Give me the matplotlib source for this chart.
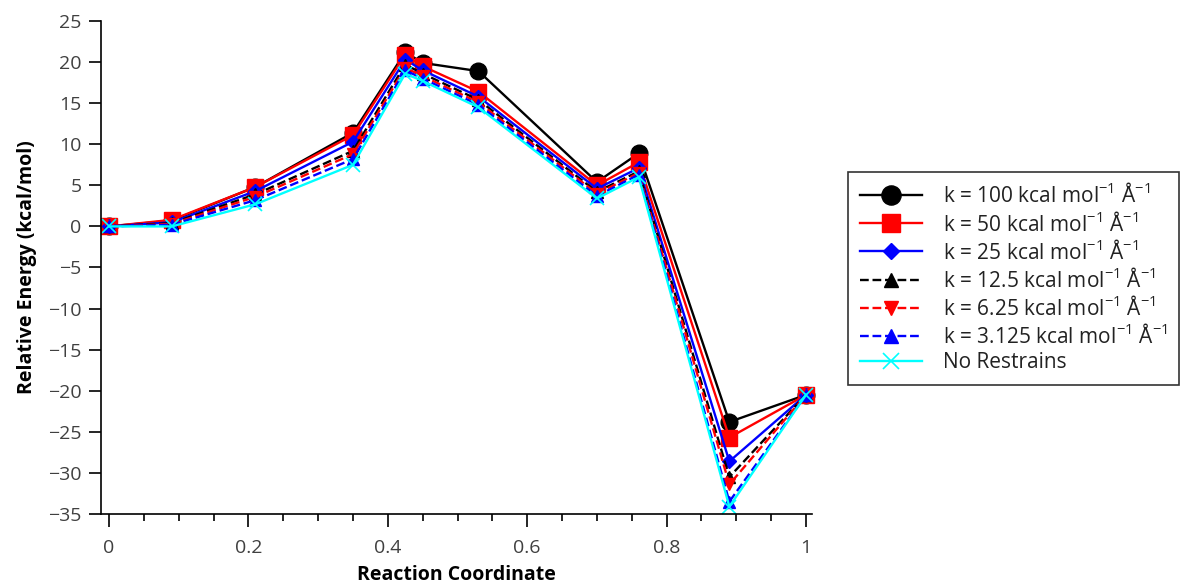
import matplotlib
matplotlib.use('Agg')
import matplotlib.pyplot as plt
from matplotlib.ticker import MultipleLocator

plt.rcParams['font.family'] = ['Open Sans', 'DejaVu Sans']
plt.rcParams['mathtext.default'] = 'regular'

# reaction coordinate of each image
coord = [0, 0.09, 0.21, 0.35, 0.425, 0.45, 0.53, 0.70, 0.76, 0.89, 1.0]

# relative energies (kcal/mol) for each restraint constant
e_k100 = [0, 0.7, 4.8, 11.4, 21.2, 19.9, 18.9, 5.4, 8.9, -23.8, -20.5]
e_k50 = [0, 0.8, 4.8, 11.1, 20.9, 19.5, 16.4, 5.0, 7.8, -25.7, -20.5]
e_k25 = [0, 0.5, 4.3, 10.3, 20.3, 19.0, 15.8, 4.6, 7.1, -28.6, -20.5]
e_k12 = [0, 0.4, 3.9, 9.2, 19.7, 18.6, 15.4, 4.2, 6.7, -30.5, -20.5]
e_k6 = [0, 0.3, 3.6, 8.8, 19.3, 18.3, 15.1, 4.0, 6.5, -31.4, -20.5]
e_k3 = [0, 0.2, 3.2, 8.2, 19.0, 18.0, 14.8, 3.7, 6.3, -33.5, -20.5]
e_none = [0, 0.0, 2.7, 7.5, 18.6, 17.7, 14.5, 3.4, 6.0, -34.1, -20.5]

labels = [
    'k = 100 kcal mol$^{-1}$ Å$^{-1}$',
    'k = 50 kcal mol$^{-1}$ Å$^{-1}$',
    'k = 25 kcal mol$^{-1}$ Å$^{-1}$',
    'k = 12.5 kcal mol$^{-1}$ Å$^{-1}$',
    'k = 6.25 kcal mol$^{-1}$ Å$^{-1}$',
    'k = 3.125 kcal mol$^{-1}$ Å$^{-1}$',
    'No Restrains',
]

fig = plt.figure(figsize=(11.83, 5.87), dpi=100)
ax = fig.add_axes([0.0854, 0.1244, 0.6010, 0.8398])

styles = [
    (e_k100, 'black', '-', 'o', 12),
    (e_k50, 'red', '-', 's', 11),
    (e_k25, 'blue', '-', 'D', 7),
    (e_k12, 'black', '--', '^', 9),
    (e_k6, 'red', '--', 'v', 9),
    (e_k3, 'blue', '--', '^', 9),
    (e_none, 'cyan', '-', 'x', 10),
]
for (vals, col, ls, mk, ms), lab in zip(styles, labels):
    ax.plot(coord, vals, color=col, linestyle=ls, marker=mk, markersize=ms,
            linewidth=1.7, label=lab, markeredgewidth=1.2 if mk == 'x' else 1,
            clip_on=False)

ax.set_xlim(-0.0115, 1.0086)
ax.set_ylim(-35, 25)
ax.xaxis.set_minor_locator(MultipleLocator(0.05))
ax.yaxis.set_major_locator(MultipleLocator(5))
ax.set_xticks([0, 0.2, 0.4, 0.6, 0.8, 1.0])
ax.set_xticklabels(['0', '0.2', '0.4', '0.6', '0.8', '1'])

for s in ['top', 'right']:
    ax.spines[s].set_visible(False)
for s in ['left', 'bottom']:
    ax.spines[s].set_linewidth(1.2)

ax.tick_params(axis='both', which='major', direction='out', length=9, width=1.2,
               labelsize=14, colors='black', labelcolor='#404040', pad=5)
ax.tick_params(axis='x', which='minor', direction='out', length=5, width=1.2)
ax.tick_params(axis='x', which='major', pad=9)

ax.set_xlabel('Reaction Coordinate', fontsize=14, fontweight='bold', labelpad=6)
ax.set_ylabel('Relative Energy (kcal/mol)', fontsize=14, fontweight='bold', labelpad=8)

leg = fig.legend(loc='upper left', bbox_to_anchor=(0.717, 0.707), fontsize=15,
                 handlelength=3.0, labelspacing=0.2, borderpad=0.55,
                 handletextpad=1.0, borderaxespad=0, markerscale=1.15,
                 fancybox=False, edgecolor='#333333', framealpha=1)
leg.get_frame().set_linewidth(1.2)
for t in leg.get_texts():
    t.set_color('#222222')

fig.savefig('out.png', dpi=100, facecolor='white')
